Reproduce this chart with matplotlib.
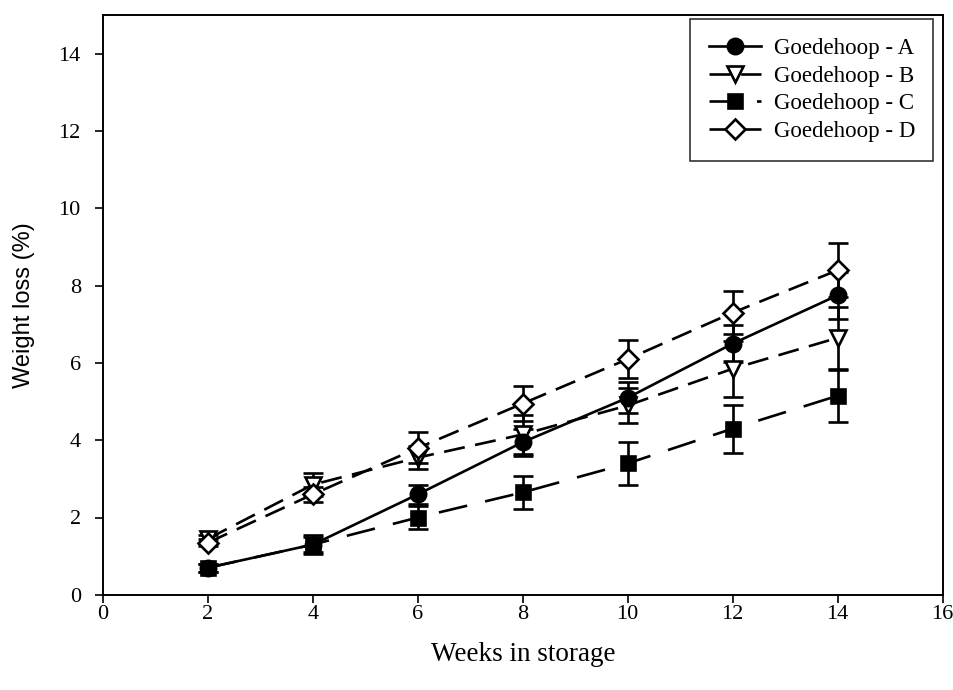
import matplotlib
matplotlib.use("Agg")
import matplotlib.pyplot as plt
from matplotlib.lines import Line2D

weeks = [2, 4, 6, 8, 10, 12, 14]

loss_a = [0.7, 1.3, 2.6, 3.95, 5.1, 6.5, 7.75]
loss_b = [1.45, 2.85, 3.55, 4.15, 4.9, 5.85, 6.65]
loss_c = [0.7, 1.3, 2.0, 2.65, 3.4, 4.3, 5.15]
loss_d = [1.35, 2.6, 3.8, 4.95, 6.1, 7.3, 8.4]

err_a = [0.1, 0.2, 0.25, 0.35, 0.4, 0.48, 0.6]
err_b = [0.1, 0.3, 0.3, 0.5, 0.45, 0.73, 0.8]
err_c = [0.1, 0.25, 0.3, 0.42, 0.55, 0.62, 0.68]
err_d = [0.1, 0.2, 0.4, 0.45, 0.5, 0.55, 0.7]

labels = ["Goedehoop - A", "Goedehoop - B", "Goedehoop - C", "Goedehoop - D"]

serif = "Liberation Serif"
lw = 1.9

# marker, linestyle, face colour, size
styles = [
    ("o", "-", "black", 11),
    ("v", (0, (8, 4)), "white", 12),
    ("s", (0, (11, 7)), "black", 10),
    ("D", (0, (8, 4)), "white", 10),
]
series = [(loss_a, err_a), (loss_b, err_b), (loss_c, err_c), (loss_d, err_d)]
orders = [4, 3, 3, 5]

fig = plt.figure(figsize=(9.54, 6.9), dpi=100)
ax = fig.add_axes([0.108, 0.138, 0.880, 0.840])

handles = []
for (vals, errs), (mk, ls, fc, ms), lab, z in zip(series, styles, labels, orders):
    ax.errorbar(weeks, vals, yerr=errs, fmt="none", ecolor="black", elinewidth=lw,
                capsize=7, capthick=lw, zorder=z - 1)
    ax.plot(weeks, vals, marker=mk, ls=ls, color="black", lw=lw, mfc=fc, mec="black",
            mew=lw, ms=ms, zorder=z)
    handles.append(Line2D([], [], marker=mk, ls=ls, color="black", lw=lw, mfc=fc,
                          mec="black", mew=lw, ms=ms, label=lab))

ax.set_xlim(0, 16)
ax.set_ylim(0, 15)
ax.set_xticks(range(0, 17, 2))
ax.set_yticks(range(0, 15, 2))
ax.tick_params(direction="out", length=6, width=1.2, labelsize=16)
for lab in ax.get_xticklabels() + ax.get_yticklabels():
    lab.set_fontfamily(serif)
ax.tick_params(axis="x", pad=1.5)
ax.tick_params(axis="y", pad=10)
for sp in ax.spines.values():
    sp.set_linewidth(1.4)

ax.set_xlabel("Weeks in storage", fontfamily=serif, fontsize=19.5, labelpad=13)
ax.set_ylabel("Weight loss (%)", fontfamily="Liberation Sans", fontsize=17, labelpad=17)

leg = ax.legend(handles=handles, loc="upper right", bbox_to_anchor=(0.989, 0.993),
                frameon=True, fancybox=False, edgecolor="black",
                prop={"family": serif, "size": 16.5}, handlelength=2.27,
                borderpad=0.8, labelspacing=0.3, handletextpad=0.57, borderaxespad=0)
leg.get_frame().set_linewidth(1.2)

fig.savefig("out.png", dpi=100)
